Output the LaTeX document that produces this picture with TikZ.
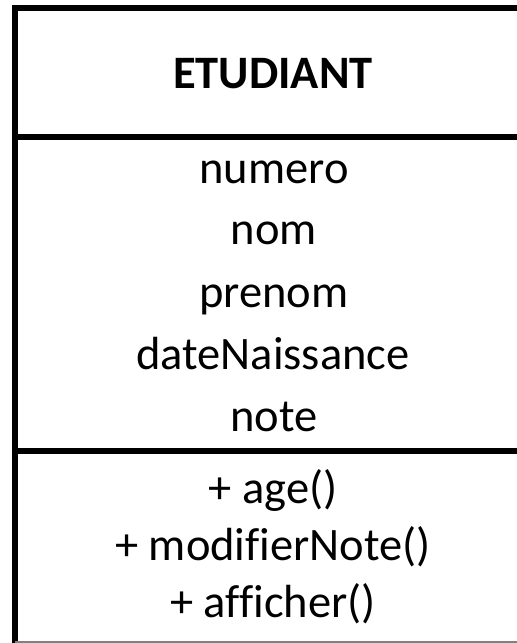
\documentclass[tikz,border=0pt]{standalone}
\usepackage{fontspec}
\setmainfont[Ligatures=NoCommon]{Carlito}
\begin{document}
\begin{tikzpicture}[x=1pt,y=-1pt,
  rule/.style={line width=6.5pt,black},
  member/.style={anchor=base,inner sep=0pt,font=\fontsize{46.5}{54}\selectfont},
  classname/.style={anchor=base,inner sep=0pt,font=\fontsize{46.5}{54}\selectfont\bfseries}]
  \useasboundingbox (0,0) rectangle (517,643);
  % frame of the class box (right side runs off the page)
  \coordinate (tl) at (15,8);
  \coordinate (tr) at (517,8);
  \coordinate (bl) at (15,643);
  \coordinate (s1l) at (15,137);
  \coordinate (s1r) at (517,137);
  \coordinate (s2l) at (15,451);
  \coordinate (s2r) at (517,451);
  \coordinate (bbl) at (15,642);
  \coordinate (bbr) at (517,642);
  \draw[rule] (tr) -- (tl) -- (bl);
  \draw[rule] (s1l) -- (s1r);
  \draw[rule] (s2l) -- (s2r);
  \draw[gray,line width=1.5pt] (bbl) -- (bbr);
  % class name
  \node[classname] (name) at (273,88) {ETUDIANT};
  % attributes
  \node[member] (a1) at (274,183) {numero};
  \node[member] (a2) at (274,244) {nom};
  \node[member] (a3) at (274,307) {prenom};
  \node[member] (a4) at (273,369) {dateNaissance};
  \node[member] (a5) at (274,431) {note};
  % operations
  \node[member] (m1) at (273,503) {+ age()};
  \node[member] (m2) at (273,560) {+ modifierNote()};
  \node[member] (m3) at (273,617) {+ afficher()};
\end{tikzpicture}
\end{document}
